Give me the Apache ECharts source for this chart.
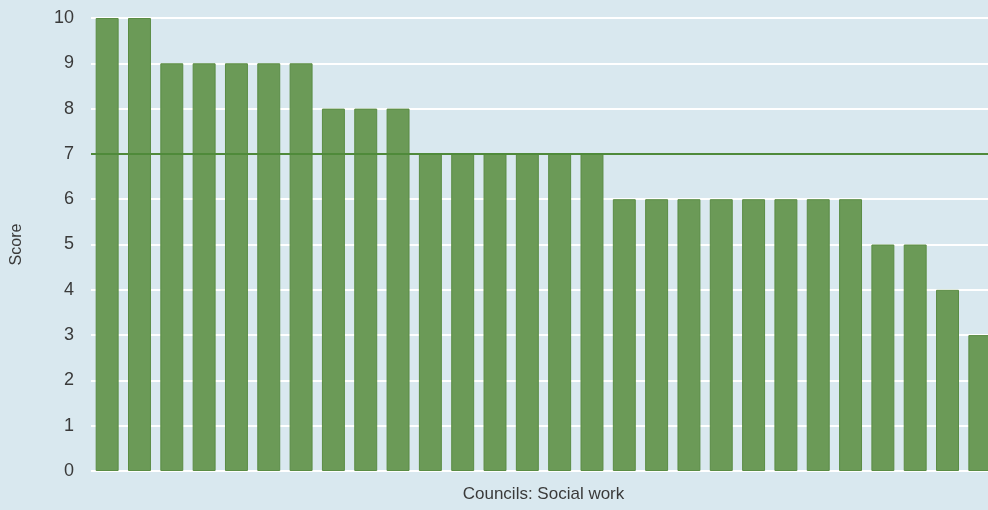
<!DOCTYPE html>
<html>
<head>
<meta charset="utf-8">
<script src="https://cdn.jsdelivr.net/npm/echarts@6/dist/echarts.min.js"></script>
<style>
html,body{margin:0;padding:0;background:#d9e8ef;overflow:hidden;width:988px;height:510px;}
#c{width:996px;height:510px;}
</style>
</head>
<body>
<div id="c"></div>
<script>
const categories = Array.from({length: 28}, (_, i) => 'Council ' + (i + 1));
const scores = [10,10,9,9,9,9,9,8,8,8,7,7,7,7,7,7,6,6,6,6,6,6,6,6,5,5,4,3];
const referenceValue = 7;
const yTicks = [0,1,2,3,4,5,6,7,8,9,10];
const FONT = '"Liberation Sans", Arial, sans-serif';

const chart = echarts.init(document.getElementById('c'), null, {renderer: 'canvas'});
chart.setOption({
  backgroundColor: '#d9e8ef',
  animation: false,
  textStyle: {fontFamily: FONT},
  grid: {left: 91, right: 0, top: 18, bottom: 39, containLabel: false},
  xAxis: {
    type: 'category',
    data: categories,
    name: 'Councils: Social work',
    nameLocation: 'middle',
    nameGap: 15,
    nameTextStyle: {color: '#3a3a3a', fontSize: 17, fontFamily: FONT},
    axisLine: {show: false},
    axisTick: {show: false},
    axisLabel: {show: false},
    splitLine: {show: false}
  },
  yAxis: {
    type: 'value',
    min: 0, max: 10, interval: 1,
    name: 'Score',
    nameLocation: 'middle',
    nameGap: 66,
    nameRotate: 90,
    nameTextStyle: {color: '#3a3a3a', fontSize: 16, fontFamily: FONT},
    axisLine: {show: false},
    axisTick: {show: false},
    axisLabel: {color: '#3a3a3a', fontSize: 18, margin: 17, fontFamily: FONT,
      formatter: v => yTicks.includes(v) ? String(v) : ''},
    splitLine: {show: true, lineStyle: {color: '#ffffff', width: 2}}
  },
  series: [{
    type: 'bar',
    data: scores,
    barCategoryGap: '29%',
    itemStyle: {color: '#6b9a57', borderColor: '#5a8c44', borderWidth: 1},
    markLine: {
      silent: true,
      symbol: 'none',
      label: {show: false},
      lineStyle: {color: '#4f8a3a', width: 2, type: 'solid'},
      data: [{yAxis: referenceValue}]
    }
  }]
});
</script>
</body>
</html>
